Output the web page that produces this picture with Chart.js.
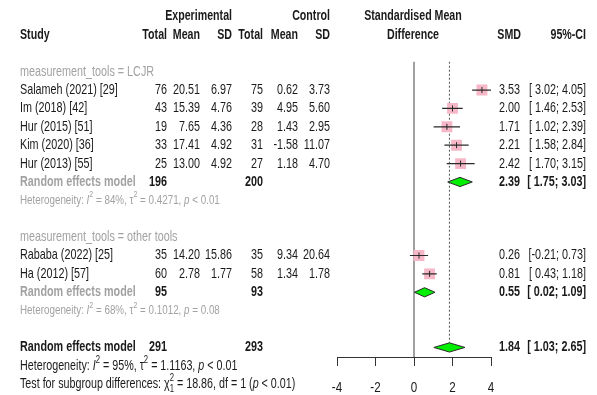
<!DOCTYPE html>
<html>
<head>
<meta charset="utf-8">
<script src="https://cdn.jsdelivr.net/npm/chart.js@4.4.1/dist/chart.umd.min.js"></script>
<style>
  html, body { margin: 0; padding: 0; background: #ffffff; }
  #wrap { width: 597px; height: 395px; position: relative; }
</style>
</head>
<body>
<div id="wrap"><canvas id="forest" width="597" height="395"></canvas></div>
<script>
// ---- study data ----
const studies   = ["Salameh (2021) [29]", "Im (2018) [42]", "Hur (2015) [51]", "Kim (2020) [36]", "Hur (2013) [55]", "Rababa (2022) [25]", "Ha (2012) [57]"];
const expTotal  = [76, 43, 19, 33, 25, 35, 60];
const expMean   = [20.51, 15.39, 7.65, 17.41, 13.00, 14.20, 2.78];
const expSD     = [6.97, 4.76, 4.36, 4.92, 4.92, 15.86, 1.77];
const ctlTotal  = [75, 39, 28, 31, 27, 35, 58];
const ctlMean   = [0.62, 4.95, 1.43, -1.58, 1.18, 9.34, 1.34];
const ctlSD     = [3.73, 5.60, 2.95, 11.07, 4.70, 20.64, 1.78];
const smd       = [3.53, 2.00, 1.71, 2.21, 2.42, 0.26, 0.81];
const smdLower  = [3.02, 1.46, 1.02, 1.58, 1.70, -0.21, 0.43];
const smdUpper  = [4.05, 2.53, 2.39, 2.84, 3.15, 0.73, 1.18];

// ---- subgroups ----
const groupLabels  = ["measurement_tools = LCJR", "measurement_tools = other tools"];
const groupMembers = [[0, 1, 2, 3, 4], [5, 6]];
const groupExpN    = [196, 95];
const groupCtlN    = [200, 93];
const groupSmd     = [2.39, 0.55];
const groupLower   = [1.75, 0.02];
const groupUpper   = [3.03, 1.09];
const groupI2      = ["84%", "68%"];
const groupTau2    = ["0.4271", "0.1012"];
const groupP       = ["< 0.01", "= 0.08"];

// ---- overall random effects model ----
const totalExpN  = 291;
const totalCtlN  = 293;
const totalSmd   = 1.84;
const totalLower = 1.03;
const totalUpper = 2.65;
const totalI2    = "95%";
const totalTau2  = "1.1163";
const totalP     = "< 0.01";
const testChi2   = "18.86";
const testDf     = "1";
const testP      = "< 0.01";

const xTicks = [-4, -2, 0, 2, 4];

// ---- row layout (one row per text line, top to bottom) ----
const studyRow = [], groupLabelRow = [], groupModelRow = [], groupHetRow = [];
let r = 2;
groupMembers.forEach((members, g) => {
  groupLabelRow[g] = r++;
  members.forEach(i => { studyRow[i] = r++; });
  groupModelRow[g] = r++;
  groupHetRow[g] = r++;
  r++; // spacer
});
const totalModelRow = r;
const totalHetRow = r + 1;
const testRow = r + 2;

// ---- fonts ----
function fontAvailable(name) {
  const c = document.createElement('canvas').getContext('2d');
  const probe = 'mmmmmmmmmmlli1WWQ';
  c.font = '40px monospace';
  const a = c.measureText(probe).width;
  c.font = '40px "' + name + '", monospace';
  const b = c.measureText(probe).width;
  return a !== b;
}
const HAS_NARROW = fontAvailable('Liberation Sans Narrow');
const FAMILY = HAS_NARROW ? '"Liberation Sans Narrow", "Liberation Sans", Arial, sans-serif' : '"Liberation Sans", Arial, sans-serif';
const SX = HAS_NARROW ? 0.915 : 0.75;   // horizontal condensing of the sans face

const GREY = '#a2a2a2';
const INK = '#1a1a1a';
const BODY = 14.4;

function fontStr(size, bold, italic) {
  return (italic ? 'italic ' : '') + (bold ? 'bold ' : '') + size + 'px ' + FAMILY;
}
function text(ctx, s, x, y, o) {
  o = o || {};
  ctx.save();
  ctx.font = fontStr(o.size || BODY, o.bold, o.italic);
  ctx.fillStyle = o.color || INK;
  ctx.textAlign = o.align || 'left';
  ctx.textBaseline = 'middle';
  ctx.translate(x, y);
  ctx.scale(SX, 1);
  ctx.fillText(s, 0, 0);
  ctx.restore();
}
// run of text pieces with italics, superscripts and subscripts
function rich(ctx, pieces, x, y, size, color) {
  let cx = x;
  let held = 0;
  pieces.forEach(p => {
    const small = p.sup || p.sub;
    const fs = small ? size * 0.72 : size;
    const dy = p.sup ? -size * 0.42 : (p.sub ? size * 0.32 : 0);
    ctx.save();
    ctx.font = fontStr(fs, p.bold, p.italic);
    const w = ctx.measureText(p.t).width * SX;
    ctx.restore();
    text(ctx, p.t, cx, y + dy, { size: fs, italic: p.italic, bold: p.bold, color: color });
    if (p.hold) { held = Math.max(held, w); }
    else { cx += Math.max(w, held); held = 0; }
  });
}
function hetPieces(i2, tau2, p) {
  return [
    { t: 'Heterogeneity: ' }, { t: 'I', italic: true }, { t: '2', sup: true },
    { t: ' = ' + i2 + ', ' }, { t: '\u03C4' }, { t: '2', sup: true },
    { t: ' = ' + tau2 + ', ' }, { t: 'p', italic: true }, { t: ' ' + p }
  ];
}
const f2 = v => v.toFixed(2);
const ci = (lo, hi) => '[' + f2(lo).padStart(5, ' ') + '; ' + f2(hi) + ']';

// ---- column anchors (right edges unless noted) ----
const COL = { study: 20, eN: 167, eM: 200, eS: 232, cN: 263, cM: 298, cS: 330, smdMid: 413, smd: 520, ci: 586 };

const tablePlugin = {
  id: 'forestTable',
  afterDraw(chart) {
    const ctx = chart.ctx;
    const ys = chart.scales.y;
    const xs = chart.scales.x;
    const Y = row => ys.getPixelForValue(row);

    // axis tick labels, condensed like the table text
    xs.ticks.forEach(t => {
      text(ctx, String(t.value), xs.getPixelForValue(t.value), xs.top + 31, { size: 15.5, align: 'center' });
    });

    // headers
    const H = { bold: true, size: 14.2 };
    text(ctx, 'Experimental', COL.eS, Y(-1), Object.assign({ align: 'right' }, H));
    text(ctx, 'Control', COL.cS, Y(-1), Object.assign({ align: 'right' }, H));
    text(ctx, 'Standardised Mean', COL.smdMid, Y(-1), Object.assign({ align: 'center' }, H));
    text(ctx, 'Study', COL.study, Y(0), H);
    [['Total', COL.eN], ['Mean', COL.eM], ['SD', COL.eS], ['Total', COL.cN], ['Mean', COL.cM], ['SD', COL.cS], ['SMD', COL.smd + 1], ['95%-CI', COL.ci]]
      .forEach(([s, x]) => text(ctx, s, x, Y(0), Object.assign({ align: 'right' }, H)));
    text(ctx, 'Difference', COL.smdMid, Y(0), Object.assign({ align: 'center' }, H));

    // study rows
    studies.forEach((name, i) => {
      const y = Y(studyRow[i]);
      text(ctx, name, COL.study, y);
      text(ctx, String(expTotal[i]), COL.eN, y, { align: 'right' });
      text(ctx, f2(expMean[i]), COL.eM, y, { align: 'right' });
      text(ctx, f2(expSD[i]), COL.eS, y, { align: 'right' });
      text(ctx, String(ctlTotal[i]), COL.cN, y, { align: 'right' });
      text(ctx, f2(ctlMean[i]), COL.cM, y, { align: 'right' });
      text(ctx, f2(ctlSD[i]), COL.cS, y, { align: 'right' });
      text(ctx, f2(smd[i]), COL.smd, y, { align: 'right' });
      text(ctx, ci(smdLower[i], smdUpper[i]), COL.ci, y, { align: 'right' });
    });

    // subgroup rows
    groupLabels.forEach((label, g) => {
      text(ctx, label, COL.study, Y(groupLabelRow[g]), { color: GREY });
      const y = Y(groupModelRow[g]);
      text(ctx, 'Random effects model', COL.study, y, { bold: true, color: GREY });
      text(ctx, String(groupExpN[g]), COL.eN, y, { bold: true, align: 'right' });
      text(ctx, String(groupCtlN[g]), COL.cN, y, { bold: true, align: 'right' });
      text(ctx, f2(groupSmd[g]), COL.smd, y, { bold: true, align: 'right' });
      text(ctx, ci(groupLower[g], groupUpper[g]), COL.ci, y, { bold: true, align: 'right' });
      rich(ctx, hetPieces(groupI2[g], groupTau2[g], groupP[g]), COL.study, Y(groupHetRow[g]), 13.1, GREY);
    });

    // overall rows
    const yt = Y(totalModelRow);
    text(ctx, 'Random effects model', COL.study, yt, { bold: true });
    text(ctx, String(totalExpN), COL.eN, yt, { bold: true, align: 'right' });
    text(ctx, String(totalCtlN), COL.cN, yt, { bold: true, align: 'right' });
    text(ctx, f2(totalSmd), COL.smd, yt, { bold: true, align: 'right' });
    text(ctx, ci(totalLower, totalUpper), COL.ci, yt, { bold: true, align: 'right' });
    rich(ctx, hetPieces(totalI2, totalTau2, totalP), COL.study, Y(totalHetRow), 14.3, INK);
    rich(ctx, [
      { t: 'Test for subgroup differences: ' }, { t: '\u03C7' },
      { t: testDf, sub: true, hold: true }, { t: '2', sup: true },
      { t: ' = ' + testChi2 + ', df = ' + testDf + ' (' }, { t: 'p', italic: true }, { t: ' ' + testP + ')' }
    ], COL.study, Y(testRow), 14.3, INK);
  }
};

// ---- plot datasets ----
const DIAMOND_HALF = 0.25;   // half height of a summary diamond, in row units
const diamond = (est, lo, hi, row) => [
  { x: lo, y: row }, { x: est, y: row - DIAMOND_HALF }, { x: hi, y: row },
  { x: est, y: row + DIAMOND_HALF }, { x: lo, y: row }
];

const datasets = [];
// confidence interval whiskers
studies.forEach((s, i) => {
  datasets.push({
    data: [{ x: smdLower[i], y: studyRow[i] }, { x: smdUpper[i], y: studyRow[i] }],
    showLine: true, borderColor: '#2a2a2a', borderWidth: 1.2, pointRadius: 0, fill: false
  });
});
// point-estimate tick
datasets.push({
  data: smd.map((v, i) => ({ x: v, y: studyRow[i] })),
  pointStyle: 'line', rotation: 90, pointRadius: 3, borderColor: '#2a2a2a', borderWidth: 1, showLine: false
});
// study weight squares
datasets.push({
  data: smd.map((v, i) => ({ x: v, y: studyRow[i] })),
  pointStyle: 'rect', pointRadius: 7.7, backgroundColor: '#f6b8c8', borderWidth: 0, showLine: false
});
// summary diamonds
groupSmd.forEach((v, g) => {
  datasets.push({
    data: diamond(v, groupLower[g], groupUpper[g], groupModelRow[g]),
    showLine: true, fill: 'shape', backgroundColor: '#00f000', borderColor: '#2a2a2a', borderWidth: 1, pointRadius: 0, tension: 0
  });
});
datasets.push({
  data: diamond(totalSmd, totalLower, totalUpper, totalModelRow),
  showLine: true, fill: 'shape', backgroundColor: '#00f000', borderColor: '#2a2a2a', borderWidth: 1, pointRadius: 0, tension: 0
});
// overall effect reference line (dotted)
datasets.push({
  data: [{ x: totalSmd, y: 1.46 }, { x: totalSmd, y: totalModelRow - DIAMOND_HALF }],
  showLine: true, borderColor: '#555555', borderWidth: 1, borderDash: [2, 2], pointRadius: 0, fill: false
});
// line of no effect
datasets.push({
  data: [{ x: 0, y: 1.46 }, { x: 0, y: 17.52 }],
  showLine: true, borderColor: '#8a8a8a', borderWidth: 1.6, pointRadius: 0, fill: false
});

new Chart(document.getElementById('forest'), {
  type: 'scatter',
  data: { datasets: datasets },
  options: {
    responsive: false,
    animation: false,
    events: [],
    layout: { padding: { left: 337, right: 106, top: 16.5, bottom: 0 } },
    plugins: { legend: { display: false }, tooltip: { enabled: false } },
    scales: {
      x: {
        type: 'linear', min: -4, max: 4,
        afterBuildTicks: scale => { scale.ticks = xTicks.map(v => ({ value: v })); },
        afterFit: scale => { scale.height = 38; },
        ticks: { color: 'rgba(0,0,0,0)', padding: 12, font: { family: FAMILY, size: 14 }, maxRotation: 0, autoSkip: false },
        grid: { drawOnChartArea: false, drawTicks: true, tickLength: 9, color: '#333333', tickColor: '#333333', tickWidth: 1 },
        border: { display: true, color: '#333333', width: 1 }
      },
      y: { type: 'linear', display: false, min: -1, max: 17.52, reverse: true }
    }
  },
  plugins: [tablePlugin]
});
</script>
</body>
</html>
